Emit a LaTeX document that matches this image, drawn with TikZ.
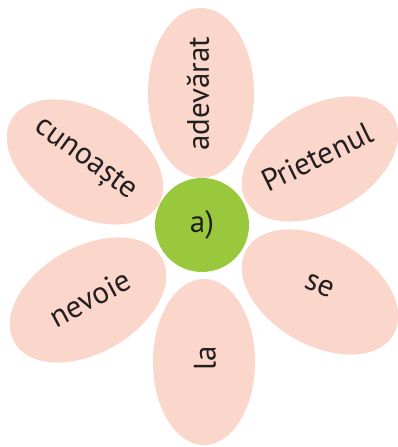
\documentclass[tikz,border=0pt]{standalone}
\usepackage{fontspec}
\setmainfont{PT Sans}
\usetikzlibrary{shapes.geometric}
\definecolor{petalpink}{HTML}{FBD6CA}
\definecolor{leafgreen}{HTML}{99C83C}
\definecolor{inkdark}{HTML}{231F20}
\tikzset{
  petal/.style={ellipse, fill=petalpink, draw=none, inner sep=0pt, minimum width=170pt, minimum height=106pt},
  word/.style={text=inkdark, font=\fontsize{31}{36}\selectfont, inner sep=0pt},
  core/.style={circle, fill=leafgreen, draw=none, minimum size=94pt, inner sep=0pt}
}
\begin{document}
\begin{tikzpicture}[x=1pt,y=1pt]
\useasboundingbox (0,0) rectangle (397,447);
\node[petal, rotate=90] (ptop) at (201,354) {};
\node[petal, rotate=-30] (pul) at (85,285) {};
\node[petal, rotate=30] (pur) at (320,288) {};
\node[petal, rotate=30] (pll) at (88,147) {};
\node[petal, rotate=-30] (plr) at (320,155) {};
\node[petal, rotate=90, minimum width=166pt, minimum height=102pt] (pbot) at (204,85) {};
\node[core] (center) at (202,222) {};
\node[word, rotate=90] (wtop) at (198,353) {adevărat};
\node[word, rotate=-36] (wul) at (85,287) {cunoaște};
\node[word, rotate=26] (wur) at (317,290) {Prietenul};
\node[word, rotate=28] (wll) at (90,149) {nevoie};
\node[word, rotate=-22] (wlr) at (320,161) {se};
\node[word, rotate=90] (wbot) at (205,89) {la};
\node[word] (wcenter) at (202,222) {a)};
\end{tikzpicture}
\end{document}
